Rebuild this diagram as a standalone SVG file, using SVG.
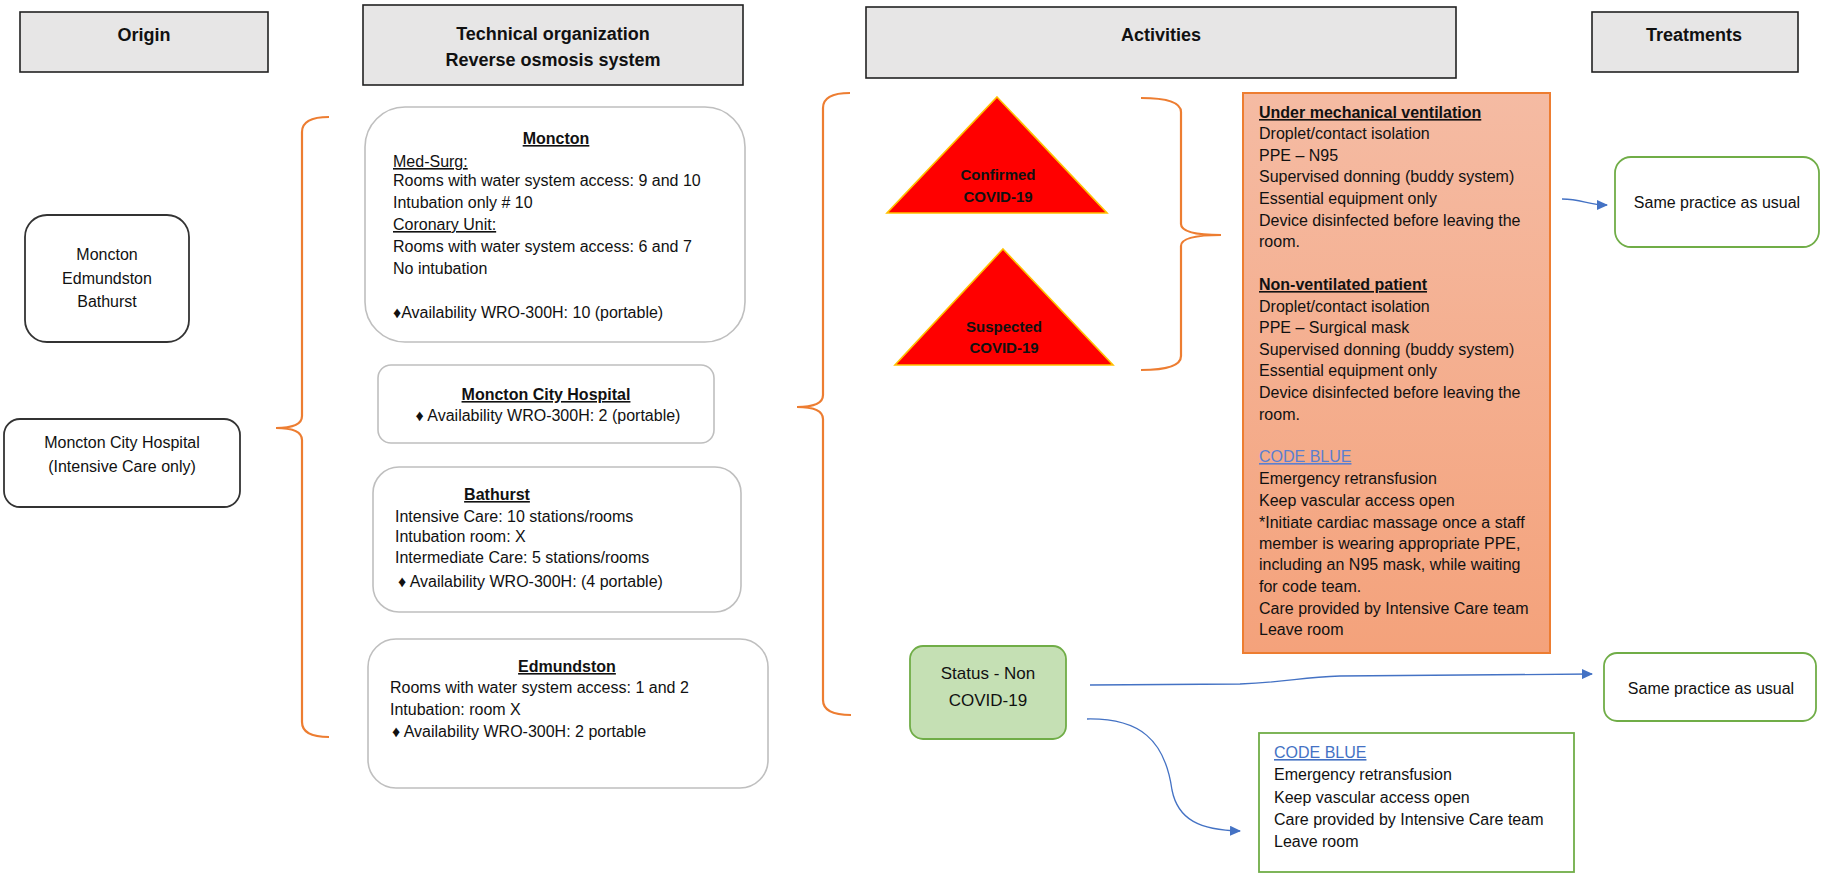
<svg xmlns="http://www.w3.org/2000/svg" width="1822" height="874" viewBox="0 0 1822 874">
<style>
text{font-family:"Liberation Sans",Arial,sans-serif;fill:#111;}
.hdr rect{fill:#E7E6E6;stroke:#222;stroke-width:1.6;}
.hdr text{font-size:18px;font-weight:bold;text-anchor:middle;}
.org{fill:#fff;stroke:#333;stroke-width:1.8;}
.site{fill:#fff;stroke:#BFBFBF;stroke-width:1.6;}
.b{font-size:16px;}
.c{text-anchor:middle;}
.u{text-decoration:underline;}
.bold{font-weight:bold;}
.brace{fill:none;stroke:#ED7D31;stroke-width:2.2;}
.tri{fill:#FF0000;stroke:#FFC000;stroke-width:1.6;}
.tri-t{font-size:15px;font-weight:bold;text-anchor:middle;}
.green{fill:#fff;stroke:#70AD47;stroke-width:1.8;}
.blue{fill:#4472C4;}
.conn{fill:none;stroke:#4472C4;stroke-width:1.3;}
</style>
<defs>
<linearGradient id="og" x1="0" y1="0" x2="0" y2="1">
<stop offset="0" stop-color="#F5BBA3"/>
<stop offset="1" stop-color="#F4A27B"/>
</linearGradient>
<marker id="ah" markerUnits="userSpaceOnUse" markerWidth="12" markerHeight="10" refX="10" refY="5" orient="auto">
<path d="M0,0 L11,5 L0,10 z" fill="#4472C4"/>
</marker>
</defs>

<g id="hdr-origin" class="hdr"><rect x="20" y="12" width="248" height="60"/><text x="144" y="41">Origin</text></g>
<g id="hdr-tech" class="hdr"><rect x="363" y="5" width="380" height="80"/><text x="553" y="40">Technical organization</text><text x="553" y="66">Reverse osmosis system</text></g>
<g id="hdr-activities" class="hdr"><rect x="866" y="7" width="590" height="71"/><text x="1161" y="41">Activities</text></g>
<g id="hdr-treatments" class="hdr"><rect x="1592" y="12" width="206" height="60"/><text x="1694" y="41">Treatments</text></g>

<g id="origin-mcb">
<rect class="org" x="25" y="215" width="164" height="127" rx="22"/>
<text class="b c" x="107" y="260">Moncton</text>
<text class="b c" x="107" y="284">Edmundston</text>
<text class="b c" x="107" y="307">Bathurst</text>
</g>
<g id="origin-mch">
<rect class="org" x="4" y="419" width="236" height="88" rx="16"/>
<text class="b c" x="122" y="448">Moncton City Hospital</text>
<text class="b c" x="122" y="472">(Intensive Care only)</text>
</g>

<g id="site-moncton">
<rect class="site" x="365" y="107" width="380" height="235" rx="40"/>
<text class="b c u bold" x="556" y="144">Moncton</text>
<text class="b u" x="393" y="167">Med-Surg:</text>
<text class="b" x="393" y="186">Rooms with water system access: 9 and 10</text>
<text class="b" x="393" y="208">Intubation only # 10</text>
<text class="b u" x="393" y="230">Coronary Unit:</text>
<text class="b" x="393" y="252">Rooms with water system access: 6 and 7</text>
<text class="b" x="393" y="274">No intubation</text>
<text class="b" x="393" y="318">♦Availability WRO-300H: 10 (portable)</text>
</g>
<g id="site-mch">
<rect class="site" x="378" y="365" width="336" height="78" rx="13"/>
<text class="b c u bold" x="546" y="400">Moncton City Hospital</text>
<text class="b c" x="548" y="421">♦ Availability WRO-300H: 2 (portable)</text>
</g>
<g id="site-bathurst">
<rect class="site" x="373" y="467" width="368" height="145" rx="26"/>
<text class="b c u bold" x="497" y="500">Bathurst</text>
<text class="b" x="395" y="522">Intensive Care: 10 stations/rooms</text>
<text class="b" x="395" y="542">Intubation room: X</text>
<text class="b" x="395" y="563">Intermediate Care: 5 stations/rooms</text>
<text class="b" x="398" y="587">♦ Availability WRO-300H: (4 portable)</text>
</g>
<g id="site-edmundston">
<rect class="site" x="368" y="639" width="400" height="149" rx="28"/>
<text class="b c u bold" x="567" y="672">Edmundston</text>
<text class="b" x="390" y="693">Rooms with water system access: 1 and 2</text>
<text class="b" x="390" y="715">Intubation: room X</text>
<text class="b" x="392" y="737">♦ Availability WRO-300H: 2 portable</text>
</g>

<g id="tri-confirmed">
<polygon class="tri" points="997,97 1107,213 887,213"/>
<text class="tri-t" x="998" y="180">Confirmed</text>
<text class="tri-t" x="998" y="202">COVID-19</text>
</g>
<g id="tri-suspected">
<polygon class="tri" points="1003,249 1113,365 895,365"/>
<text class="tri-t" x="1004" y="332">Suspected</text>
<text class="tri-t" x="1004" y="353">COVID-19</text>
</g>

<g id="covid-measures">
<rect x="1243" y="93" width="307" height="560" fill="url(#og)" stroke="#ED7D31" stroke-width="2"/>
<text class="b u bold" x="1259" y="118">Under mechanical ventilation</text>
<text class="b" x="1259" y="139">Droplet/contact isolation</text>
<text class="b" x="1259" y="161">PPE – N95</text>
<text class="b" x="1259" y="182">Supervised donning (buddy system)</text>
<text class="b" x="1259" y="204">Essential equipment only</text>
<text class="b" x="1259" y="226">Device disinfected before leaving the</text>
<text class="b" x="1259" y="247">room.</text>
<text class="b u bold" x="1259" y="290">Non-ventilated patient</text>
<text class="b" x="1259" y="312">Droplet/contact isolation</text>
<text class="b" x="1259" y="333">PPE – Surgical mask</text>
<text class="b" x="1259" y="355">Supervised donning (buddy system)</text>
<text class="b" x="1259" y="376">Essential equipment only</text>
<text class="b" x="1259" y="398">Device disinfected before leaving the</text>
<text class="b" x="1259" y="420">room.</text>
<text class="b u" x="1259" y="462" fill="#5B7FD0" style="fill:#5B7FD0">CODE BLUE</text>
<text class="b" x="1259" y="484">Emergency retransfusion</text>
<text class="b" x="1259" y="506">Keep vascular access open</text>
<text class="b" x="1259" y="528">*Initiate cardiac massage once a staff</text>
<text class="b" x="1259" y="549">member is wearing appropriate PPE,</text>
<text class="b" x="1259" y="570">including an N95 mask, while waiting</text>
<text class="b" x="1259" y="592">for code team.</text>
<text class="b" x="1259" y="614">Care provided by Intensive Care team</text>
<text class="b" x="1259" y="635">Leave room</text>
</g>

<g id="status-non-covid">
<rect x="910" y="646" width="156" height="93" rx="13" fill="#C5E0B4" stroke="#70AD47" stroke-width="1.8"/>
<text class="c" x="988" y="679" style="font-size:17px">Status - Non</text>
<text class="c" x="988" y="706" style="font-size:17px">COVID-19</text>
</g>

<g id="treat-1">
<rect class="green" x="1615" y="157" width="204" height="90" rx="16"/>
<text class="b c" x="1717" y="208">Same practice as usual</text>
</g>
<g id="treat-2">
<rect class="green" x="1604" y="653" width="212" height="68" rx="13"/>
<text class="b c" x="1711" y="694">Same practice as usual</text>
</g>
<g id="code-blue">
<rect x="1259" y="733" width="315" height="139" fill="#fff" stroke="#70AD47" stroke-width="1.8"/>
<text class="b u" x="1274" y="758" style="fill:#4472C4">CODE BLUE</text>
<text class="b" x="1274" y="780">Emergency retransfusion</text>
<text class="b" x="1274" y="803">Keep vascular access open</text>
<text class="b" x="1274" y="825">Care provided by Intensive Care team</text>
<text class="b" x="1274" y="847">Leave room</text>
</g>

<g id="connectors">
<path class="brace" d="M329,117 Q302,117 302,132 L302,416 Q302,428 276,428 Q302,428 302,440 L302,722 Q302,737 329,737"/>
<path class="brace" d="M850,93 Q823,93 823,108 L823,395 Q823,407 797,407 Q823,407 823,419 L823,700 Q823,715 851,715"/>
<path class="brace" d="M1141,98 Q1181,98 1181,112 L1181,224 Q1181,235 1221,235 Q1181,235 1181,246 L1181,356 Q1181,370 1141,370"/>
<path class="conn" marker-end="url(#ah)" d="M1562,199 C1582,199 1588,205 1607,205"/>
<path class="conn" marker-end="url(#ah)" d="M1090,685 L1240,684 C1290,682 1300,677 1340,676 L1592,674"/>
<path class="conn" marker-end="url(#ah)" d="M1087,719 C1140,718 1165,740 1172,790 C1178,820 1200,830 1240,831"/>
</g>
</svg>
